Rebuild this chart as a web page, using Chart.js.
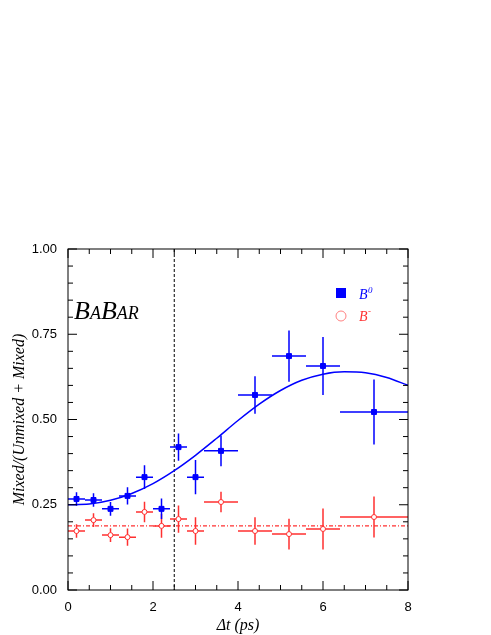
<!DOCTYPE html>
<html><head><meta charset="utf-8">
<script src="https://cdn.jsdelivr.net/npm/chart.js@4"></script>
<style>html,body{margin:0;background:#fff}#wrap{width:491px;height:635px}</style>
</head><body><div id="wrap"><canvas id="c"></canvas></div>
<script>
const tB0 = [0.2, 0.6, 1.0, 1.4, 1.8, 2.2, 2.6, 3.0, 3.6, 4.4, 5.2, 6.0, 7.2];
const xErr = [0.2, 0.2, 0.2, 0.2, 0.2, 0.2, 0.2, 0.2, 0.4, 0.4, 0.4, 0.4, 0.8];
const b0Vals = [0.267, 0.264, 0.238, 0.276, 0.331, 0.238, 0.419, 0.331, 0.408, 0.572, 0.686, 0.657, 0.522];
const b0Errs = [0.02, 0.02, 0.02, 0.025, 0.035, 0.03, 0.04, 0.05, 0.045, 0.055, 0.075, 0.085, 0.095];
const bmVals = [0.173, 0.205, 0.161, 0.155, 0.229, 0.188, 0.208, 0.173, 0.258, 0.173, 0.164, 0.179, 0.214];
const bmErrs = [0.02, 0.02, 0.02, 0.025, 0.03, 0.035, 0.04, 0.04, 0.03, 0.04, 0.045, 0.06, 0.06];
const fitT = [0, 0.5, 1, 1.5, 2, 2.5, 3, 3.5, 4, 4.5, 5, 5.5, 6, 6.5, 7, 7.5, 8];
const fitV = [0.25, 0.252, 0.263, 0.283, 0.312, 0.35, 0.395, 0.445, 0.497, 0.545, 0.585, 0.615, 0.633, 0.64, 0.637, 0.623, 0.60];
const flatLevel = 0.188;
const cutT = 2.5;

const BLUE = "#0000ff", RED = "#ff3030";

const errPlugin = {
  id: "errbars",
  beforeDatasetsDraw(chart) {
    const { ctx, scales: { x, y }, chartArea: a } = chart;
    ctx.save();
    // dashed vertical cut line
    ctx.strokeStyle = "#000"; ctx.lineWidth = 1; ctx.setLineDash([3, 2]);
    ctx.beginPath(); ctx.moveTo(x.getPixelForValue(cutT), a.top); ctx.lineTo(x.getPixelForValue(cutT), a.bottom); ctx.stroke();
    ctx.setLineDash([]);
    const bars = (vals, errs, color) => {
      ctx.strokeStyle = color; ctx.lineWidth = 1.5;
      vals.forEach((v, i) => {
        const px = x.getPixelForValue(tB0[i]), py = y.getPixelForValue(v);
        ctx.beginPath();
        ctx.moveTo(x.getPixelForValue(tB0[i] - xErr[i]), py); ctx.lineTo(x.getPixelForValue(tB0[i] + xErr[i]), py);
        ctx.moveTo(px, y.getPixelForValue(v - errs[i])); ctx.lineTo(px, y.getPixelForValue(v + errs[i]));
        ctx.stroke();
      });
    };
    bars(bmVals, bmErrs, RED);
    bars(b0Vals, b0Errs, BLUE);
    ctx.restore();
  },
  afterDraw(chart) {
    const { ctx, scales: { x, y }, chartArea: a } = chart;
    ctx.save();
    ctx.strokeStyle = "#000"; ctx.lineWidth = 1;
    ctx.strokeRect(a.left, a.top, a.right - a.left, a.bottom - a.top);
    ctx.beginPath();
    for (let k = 0; k <= 20; k++) {
      const py = y.getPixelForValue(k * 0.05), len = k % 5 === 0 ? 9 : 5;
      ctx.moveTo(a.left, py); ctx.lineTo(a.left + len, py);
      ctx.moveTo(a.right, py); ctx.lineTo(a.right - len, py);
    }
    for (let k = 0; k <= 16; k++) {
      const px = x.getPixelForValue(k * 0.5), len = k % 4 === 0 ? 9 : 5;
      ctx.moveTo(px, a.bottom); ctx.lineTo(px, a.bottom - len);
      ctx.moveTo(px, a.top); ctx.lineTo(px, a.top + len);
    }
    ctx.stroke();
    // BaBar logo
    ctx.fillStyle = "#000"; ctx.textBaseline = "alphabetic";
    let lx = a.left + 6; const ly = a.top + 70;
    [["B", 26], ["A", 18], ["B", 26], ["AR", 18]].forEach(([s, sz]) => {
      ctx.font = `italic ${sz}px "Liberation Serif"`;
      ctx.fillText(s, lx, ly); lx += ctx.measureText(s).width;
    });
    // legend
    ctx.fillStyle = BLUE; ctx.fillRect(336, 288, 10, 10);
    ctx.font = 'italic 14px "Liberation Serif"'; ctx.fillText("B", 359, 299);
    ctx.font = 'italic 9px "Liberation Serif"'; ctx.fillText("0", 368, 293);
    ctx.strokeStyle = "#ff8080"; ctx.lineWidth = 1;
    ctx.beginPath(); ctx.arc(341, 316, 5, 0, Math.PI * 2); ctx.stroke();
    ctx.fillStyle = RED; ctx.font = 'italic 14px "Liberation Serif"'; ctx.fillText("B", 359, 321);
    ctx.font = 'italic 9px "Liberation Serif"'; ctx.fillText("-", 368, 314);
    ctx.restore();
  }
};

new Chart(document.getElementById("c"), {
  type: "line",
  data: {
    datasets: [
      { data: tB0.map((t, i) => ({ x: t, y: b0Vals[i] })), showLine: false, pointStyle: "rect", pointRadius: 3.5, backgroundColor: BLUE, borderColor: BLUE, order: 1 },
      { data: tB0.map((t, i) => ({ x: t, y: bmVals[i] })), showLine: false, pointStyle: "circle", pointRadius: 2.5, backgroundColor: "#fff", borderColor: RED, borderWidth: 1, order: 0 },
      { data: fitT.map((t, i) => ({ x: t, y: fitV[i] })), borderColor: BLUE, borderWidth: 1.5, pointRadius: 0, tension: 0.4, cubicInterpolationMode: "monotone", order: 2 },
      { data: [{ x: 0, y: flatLevel }, { x: 8, y: flatLevel }], borderColor: RED, borderWidth: 1.3, borderDash: [4, 2, 1, 2], pointRadius: 0, order: 3 },
    ],
  },
  options: {
    responsive: true, maintainAspectRatio: false, animation: false,
    layout: { padding: { top: 249, right: 83, left: 8, bottom: 0 } },
    plugins: { legend: { display: false }, tooltip: { enabled: false } },
    scales: {
      x: {
        type: "linear", min: 0, max: 8,
        grid: { display: false }, border: { display: false },
        ticks: { stepSize: 2, color: "#000", font: { family: "Liberation Sans", size: 13 }, padding: 2 },
        title: { display: true, text: "Δt (ps)", color: "#000", font: { family: "Liberation Serif", style: "italic", size: 16 }, padding: 0 },
        afterFit(s) { s.height = 45; },
      },
      y: {
        min: 0, max: 1,
        grid: { display: false }, border: { display: false },
        ticks: { stepSize: 0.25, color: "#000", font: { family: "Liberation Sans", size: 13 }, callback: (v) => v.toFixed(2) },
        title: { display: true, text: "Mixed/(Unmixed + Mixed)", color: "#000", font: { family: "Liberation Serif", style: "italic", size: 16 }, padding: 2 },
        afterFit(s) { s.width = 60; },
      },
    },
  },
  plugins: [errPlugin],
});
</script></body></html>
